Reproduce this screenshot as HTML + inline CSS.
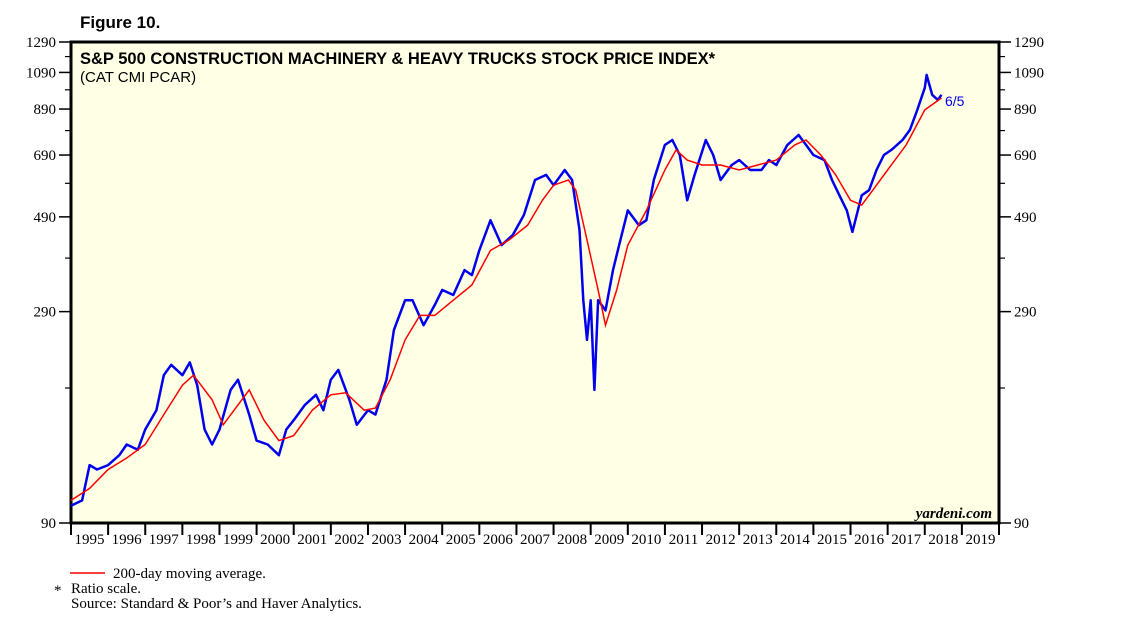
<!DOCTYPE html>
<html><head><meta charset="utf-8"><style>
html,body{margin:0;padding:0;background:#fff;width:1138px;height:627px;overflow:hidden}
svg{display:block}
</style></head><body>
<svg id="chart" width="1138" height="627" xmlns="http://www.w3.org/2000/svg">
<text x="80" y="28" font-family="Liberation Sans, sans-serif" font-weight="bold" font-size="17">Figure 10.</text>
<rect x="71" y="42" width="928" height="481" fill="#FFFFE6" stroke="#000" stroke-width="3"/>
<text x="80" y="64" font-family="Liberation Sans, sans-serif" font-weight="bold" font-size="16.5">S&amp;P 500 CONSTRUCTION MACHINERY &amp; HEAVY TRUCKS STOCK PRICE INDEX*</text>
<text x="80" y="82" font-family="Liberation Sans, sans-serif" font-size="15">(CAT CMI PCAR)</text>
<text x="992" y="518" text-anchor="end" font-family="Liberation Serif, serif" font-style="italic" font-weight="bold" font-size="15">yardeni.com</text>
<g id="axes"></g>
<g id="series"></g>
<text x="945" y="106" font-family="Liberation Sans, sans-serif" font-size="14" fill="#0000EE">6/5</text>
<line x1="70" y1="573" x2="105" y2="573" stroke="#f00" stroke-width="1.5"/>
<text x="113" y="578" font-family="Liberation Serif, serif" font-size="15">200-day moving average.</text>
<text x="54" y="595" font-family="Liberation Serif, serif" font-size="15">*</text>
<text x="71" y="593" font-family="Liberation Serif, serif" font-size="15">Ratio scale.</text>
<text x="71" y="608" font-family="Liberation Serif, serif" font-size="15">Source: Standard &amp; Poor’s and Haver Analytics.</text>
</svg>
<script>
const yTicks=[90,290,490,690,890,1090,1290];
const yMinor=[190,390,590,790,990,1190];
const years=[1995,1996,1997,1998,1999,2000,2001,2002,2003,2004,2005,2006,2007,2008,2009,2010,2011,2012,2013,2014,2015,2016,2017,2018,2019];
const priceT=[1995.0,1995.3,1995.5,1995.7,1996.0,1996.3,1996.5,1996.8,1997.0,1997.3,1997.5,1997.7,1998.0,1998.2,1998.4,1998.6,1998.8,1999.0,1999.3,1999.5,1999.8,2000.0,2000.3,2000.6,2000.8,2001.0,2001.3,2001.6,2001.8,2002.0,2002.2,2002.5,2002.7,2003.0,2003.2,2003.5,2003.7,2004.0,2004.2,2004.5,2004.8,2005.0,2005.3,2005.6,2005.8,2006.0,2006.3,2006.6,2006.9,2007.2,2007.5,2007.8,2008.0,2008.3,2008.5,2008.7,2008.8,2008.9,2009.0,2009.1,2009.2,2009.4,2009.6,2009.8,2010.0,2010.3,2010.5,2010.7,2011.0,2011.2,2011.4,2011.6,2011.8,2012.1,2012.3,2012.5,2012.8,2013.0,2013.3,2013.6,2013.8,2014.0,2014.3,2014.6,2014.8,2015.0,2015.3,2015.5,2015.7,2015.9,2016.05,2016.3,2016.5,2016.7,2016.9,2017.1,2017.4,2017.6,2017.8,2018.0,2018.05,2018.2,2018.35,2018.45];
const priceV=[99,102,124,121,124,131,139,135,151,168,204,216,204,219,193,151,139,151,188,199,164,142,139,131,151,159,173,183,168,199,210,178,155,168,164,199,262,309,309,269,301,327,318,365,355,407,481,419,443,495,601,618,584,635,601,456,309,248,309,188,309,292,365,431,508,468,481,601,730,750,690,537,618,750,690,601,653,671,635,635,671,653,730,771,730,690,671,601,552,508,451,552,568,635,690,710,750,793,886,1001,1075,963,936,963];
const maT=[1995.0,1995.5,1996.0,1996.5,1997.0,1997.5,1998.0,1998.3,1998.8,1999.1,1999.5,1999.8,2000.2,2000.6,2001.0,2001.5,2002.0,2002.4,2002.9,2003.2,2003.6,2004.0,2004.4,2004.8,2005.3,2005.8,2006.3,2006.8,2007.3,2007.7,2008.0,2008.4,2008.6,2008.9,2009.2,2009.4,2009.7,2010.0,2010.5,2011.0,2011.3,2011.6,2012.0,2012.5,2013.0,2013.5,2014.0,2014.5,2014.8,2015.2,2015.6,2016.0,2016.3,2016.6,2017.0,2017.5,2018.0,2018.45];
const maV=[102,109,121,129,139,164,193,204,178,155,173,188,159,142,146,168,183,185,168,170,199,248,284,284,309,336,407,431,468,537,584,601,568,431,327,269,327,419,508,635,710,671,653,653,635,653,671,730,750,690,618,537,523,568,635,730,886,946];
const L=71,R=999,T=42,B=523;
const NS="http://www.w3.org/2000/svg";
function xs(t){return L+(t-1995)*(R-L)/25;}
function ys(v){return B-(B-T)*Math.log(v/90)/Math.log(1290/90);}
const axes=document.getElementById('axes'),series=document.getElementById('series');
function mk(tag,attrs,parent){const e=document.createElementNS(NS,tag);for(const k in attrs)e.setAttribute(k,attrs[k]);parent.appendChild(e);return e;}
yTicks.forEach(v=>{const y=ys(v);
 let e=mk('line',{x1:L-12,x2:L,y1:y,y2:y,stroke:'#000','stroke-width':1.5},axes);
 
 
 e=mk('line',{x1:R,x2:R+12,y1:y,y2:y,stroke:'#000','stroke-width':1.5},axes);
 
 
 e=mk('text',{x:L-15,y:y+5,'text-anchor':'end','font-family':'Liberation Serif, serif','font-size':15},axes);e.textContent=v;
 
 
 e=mk('text',{x:R+15,y:y+5,'font-family':'Liberation Serif, serif','font-size':15},axes);e.textContent=v;
 
 
});
yMinor.forEach(v=>{const y=ys(v);
 let e=mk('line',{x1:L-6,x2:L,y1:y,y2:y,stroke:'#000','stroke-width':1.2},axes);
 
 
 e=mk('line',{x1:R,x2:R+6,y1:y,y2:y,stroke:'#000','stroke-width':1.2},axes);
 
 
});
years.forEach(yr=>{const x=xs(yr);
 let e=mk('line',{x1:x,x2:x,y1:B,y2:B+12,stroke:'#000','stroke-width':2},axes);
 
 
 e=mk('text',{x:xs(yr+0.5),y:B+21,'text-anchor':'middle','font-family':'Liberation Serif, serif','font-size':15},axes);e.textContent=yr;
 
 
});
let e=mk('line',{x1:R,x2:R,y1:B,y2:B+12,stroke:'#000','stroke-width':2},axes);


function path(ts,vs){return ts.map((t,i)=>(i?'L':'M')+xs(t).toFixed(1)+','+ys(vs[i]).toFixed(1)).join('');}
e=mk('path',{d:path(priceT,priceV),fill:'none',stroke:'#0000EE','stroke-width':2.5,'stroke-linejoin':'round'},series);


e=mk('path',{d:path(maT,maV),fill:'none',stroke:'#f00','stroke-width':1.5},series);


</script>
</body></html>
